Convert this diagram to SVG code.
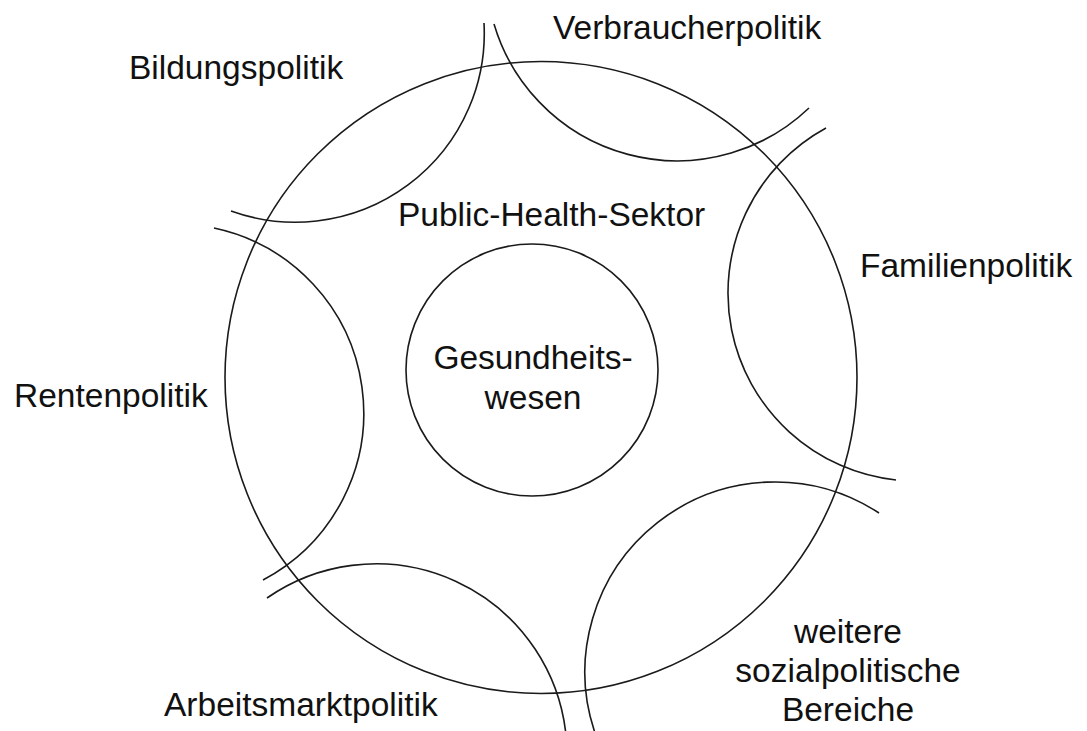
<svg xmlns="http://www.w3.org/2000/svg" width="1087" height="731" viewBox="0 0 1087 731">
<style>
.ln{fill:none;stroke:#1a1a1a;stroke-width:1.6}
.t{font-family:"Liberation Sans",Arial,sans-serif;font-size:33.5px;fill:#111}
.c{text-anchor:middle}
</style>
<rect width="1087" height="731" fill="#fff"/>
<g id="public-health-sektor">
<circle class="ln" cx="541" cy="377.5" r="316"/>
<text class="t" x="398" y="226">Public-Health-Sektor</text>
</g>
<g id="gesundheitswesen">
<circle class="ln" cx="532" cy="370" r="126"/>
<text class="t c" x="533" y="369">Gesundheits-</text>
<text class="t c" x="533" y="409">wesen</text>
</g>
<g id="bildungspolitik">
<path class="ln" d="M231,211 A189,189 0 0 0 484,23"/>
<text class="t" x="129" y="79">Bildungspolitik</text>
</g>
<g id="verbraucherpolitik">
<path class="ln" d="M494,24 A191,191 0 0 0 809,108"/>
<text class="t" x="553" y="39">Verbraucherpolitik</text>
</g>
<g id="familienpolitik">
<path class="ln" d="M826,128 A188,188 0 0 0 896,480"/>
<text class="t" x="860" y="277">Familienpolitik</text>
</g>
<g id="weitere-bereiche">
<path class="ln" d="M879,513 A190,190 0 0 0 595.7,735"/>
<text class="t c" x="848" y="643">weitere</text>
<text class="t c" x="848" y="682">sozialpolitische</text>
<text class="t c" x="848" y="721">Bereiche</text>
</g>
<g id="arbeitsmarktpolitik">
<path class="ln" d="M267,598 A191,191 0 0 1 566,735"/>
<text class="t" x="164" y="716">Arbeitsmarktpolitik</text>
</g>
<g id="rentenpolitik">
<path class="ln" d="M214,228 A189,189 0 0 1 263,580"/>
<text class="t" x="14" y="407">Rentenpolitik</text>
</g>
</svg>
